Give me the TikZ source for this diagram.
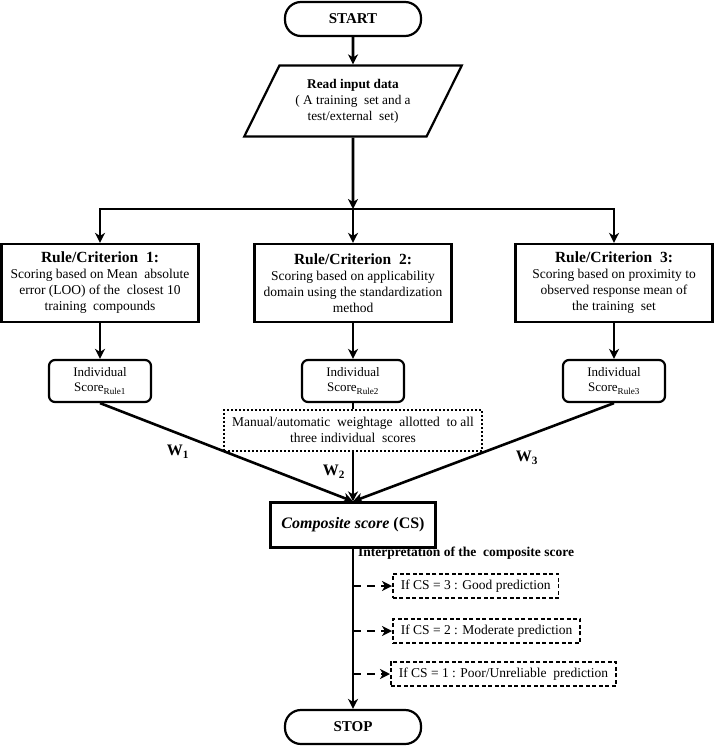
\documentclass[tikz,border=0pt]{standalone}
\usepackage{fontspec}
\setmainfont{Liberation Serif}
\usetikzlibrary{arrows.meta,shapes.geometric}
\begin{document}
\begin{tikzpicture}[x=1pt,y=-1pt,inner sep=0pt]
  \useasboundingbox (0,0) rectangle (714,746);
  \tikzstyle{term}=[draw,line width=2.2pt,rounded corners=16pt,minimum width=136pt,minimum height=34pt,font=\fontsize{15}{17}\selectfont\bfseries]
  \tikzstyle{rule}=[draw,line width=2.2pt,minimum width=197pt,minimum height=78pt,align=center,font=\fontsize{13.5}{16}\selectfont]
  \tikzstyle{ind}=[draw,line width=2.2pt,rounded corners=6pt,minimum width=102pt,minimum height=42pt,align=center,font=\fontsize{13}{15}\selectfont]
  \tikzstyle{crit}=[draw,line width=1.6pt,dash pattern=on 4pt off 2.5pt,minimum height=24pt,inner xsep=8pt,font=\fontsize{13.5}{15}\selectfont]
  \tikzstyle{wt}=[font=\fontsize{16}{18}\selectfont\bfseries]
  \node[term](start)at(353,19){START};
  \node[trapezium,trapezium left angle=58,trapezium right angle=122,trapezium stretches=true,draw,line width=2.2pt,minimum width=218pt,minimum height=71pt,align=center,font=\fontsize{13.3}{16}\selectfont](read)at(353,101){\textbf{Read input data}\\( A training\ \ set and a\\test/external\ \ set)};
  \coordinate(br)at(353,209);
  \node[rule](r1)at(100,283){{\fontsize{15.5}{18}\selectfont\bfseries Rule/Criterion\ \ 1:}\\Scoring based on Mean\ \ absolute\\error (LOO) of the\ \ closest 10\\training\ \ compounds};
  \node[rule](r2)at(353,283){{\fontsize{15.5}{18}\selectfont\bfseries Rule/Criterion\ \ 2:}\\Scoring based on applicability\\domain using the standardization\\method};
  \node[rule](r3)at(614,283){{\fontsize{15.5}{18}\selectfont\bfseries Rule/Criterion\ \ 3:}\\Scoring based on proximity\ to\\observed response mean\ of\\the training\ \ set};
  \node[ind](i1)at(100,381){Individual\\Score\textsubscript{Rule1}};
  \node[ind](i2)at(353,381){Individual\\Score\textsubscript{Rule2}};
  \node[ind](i3)at(614,381){Individual\\Score\textsubscript{Rule3}};
  \node[draw,line width=2pt,dotted,minimum width=258pt,minimum height=41pt,align=center,font=\fontsize{13.5}{16}\selectfont](wbox)at(353,430){Manual/automatic\ \ weightage\ \ allotted\ \ to all\\three individual\ \ scores};
  \node[draw,line width=2.2pt,minimum width=165pt,minimum height=45pt,font=\fontsize{16}{18}\selectfont\bfseries](comp)at(353,525){\textit{Composite score} (CS)};
  \node[wt](w1)at(178,452){W\textsubscript{1}};
  \node[wt](w2)at(334,472){W\textsubscript{2}};
  \node[wt](w3)at(527,458){W\textsubscript{3}};
  \node[anchor=west,font=\fontsize{13.5}{15}\selectfont\bfseries](interp)at(358,553){Interpretation of the\ \ composite score};
  \node[crit,anchor=west](c3)at(392,586){If CS = 3 : Good prediction};
  \node[crit,anchor=west](c2)at(392,631){If CS = 2 : Moderate prediction};
  \node[crit,anchor=west](c1)at(390,674){If CS = 1 : Poor/Unreliable\ \ prediction};
  \node[term](stop)at(353,727){STOP};
  \tikzstyle{e}=[-{Stealth[length=10pt,width=10pt,inset=3pt]},draw=black,line width=2.6pt]
  \tikzstyle{d}=[e,dash pattern=on 8pt off 6pt]
  \foreach\o/\d in{start/read,i1/comp,i3/comp,wbox/comp,comp/stop}{\draw[e](\o.south)--(\d.north);}
  \draw[e](read.south)--(br);
  \draw[e](br)-|(r1.north);
  \draw[e](br)-|(r3.north);
  \draw[e](br)--(r2.north);
  \foreach\i in{1,2,3}{\draw[e](r\i.south)--(i\i.north);}
  \draw[line width=2.6pt](i2.south)--(wbox.north);
  \foreach\c in{c1,c2,c3}{\draw[d](comp.south|-\c.west)--(\c.west);}
\end{tikzpicture}
\end{document}
